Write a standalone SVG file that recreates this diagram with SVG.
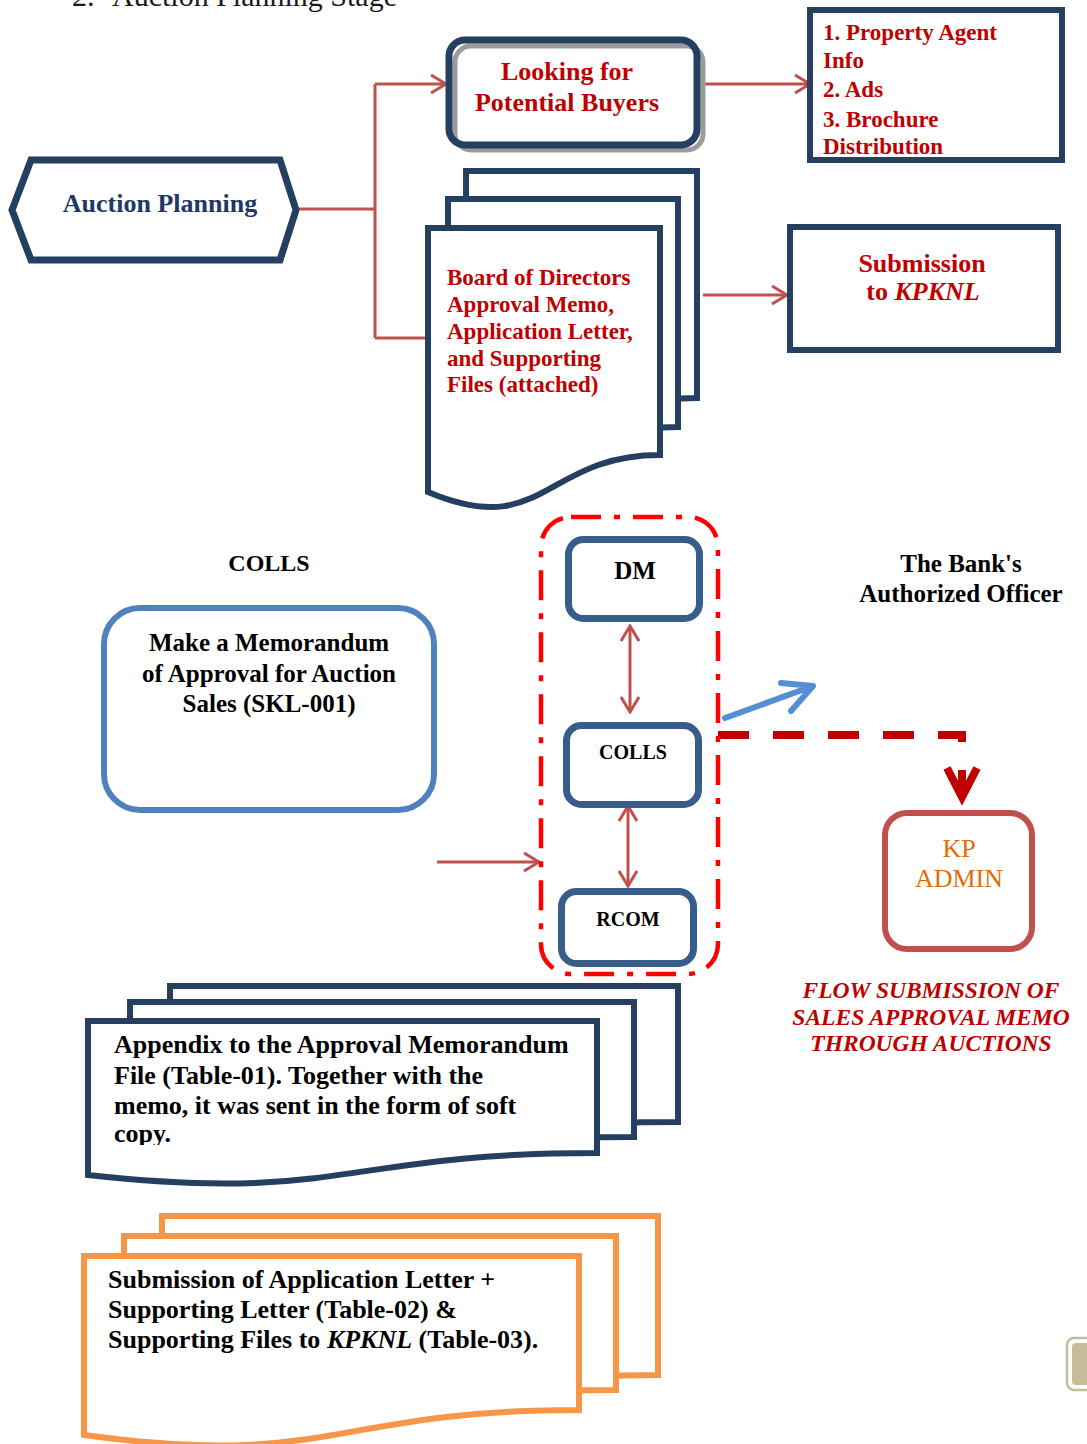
<svg xmlns="http://www.w3.org/2000/svg" width="1087" height="1444" viewBox="0 0 1087 1444">
  <style>
    text { font-family: "Liberation Serif", "Times New Roman", serif; }
    .navy { fill: #fff; stroke: #243F60; stroke-width: 6; }
    .doc { fill: #fff; stroke: #243F60; stroke-width: 6; stroke-linejoin: miter; }
    .odoc { fill: #fff; stroke: #F79646; stroke-width: 6; stroke-linejoin: miter; }
    .blue { fill: #fff; stroke: #385D8A; stroke-width: 7; }
    .red { fill: #C00000; font-weight: bold; }
    .blk { fill: #000; font-weight: bold; }
    .link { fill: none; stroke: #C0504D; stroke-width: 3; }
  </style>
  <defs>
    <marker id="arr" viewBox="0 0 20 20" refX="18" refY="10" markerWidth="20" markerHeight="20" markerUnits="userSpaceOnUse" orient="auto-start-reverse">
      <path d="M3,1 L18,10 L3,19" fill="none" stroke="#C0504D" stroke-width="3"/>
    </marker>
    <clipPath id="appClip"><rect x="90" y="1023" width="505" height="122"/></clipPath>
  </defs>

  <rect width="1087" height="1444" fill="#fff"/>

  <!-- heading -->
  <text x="72" y="6" font-size="30" fill="#1a1a1a">2.</text>
  <text x="112" y="6" font-size="30" fill="#1a1a1a">Auction Planning Stage</text>

  <!-- connectors -->
  <g id="connectors">
    <path class="link" d="M299,209 H375 M375,84 V338"/>
    <path class="link" d="M375,84 H446" marker-end="url(#arr)"/>
    <path class="link" d="M375,338 H446" marker-end="url(#arr)"/>
    <path class="link" d="M703,84 H810" marker-end="url(#arr)"/>
    <path class="link" d="M703,295 H787" marker-end="url(#arr)"/>
    <path class="link" d="M630,626 V712" marker-start="url(#arr)" marker-end="url(#arr)"/>
    <path class="link" d="M628,806 V886" marker-start="url(#arr)" marker-end="url(#arr)"/>
    <path class="link" d="M437,862 H539" marker-end="url(#arr)"/>
    <!-- blue pointer -->
    <path d="M725,718 L813,686 M781,683 L813,686 L791,711" fill="none" stroke="#558ED5" stroke-width="6" stroke-linecap="round" stroke-linejoin="round"/>
    <!-- dashed route to KP ADMIN -->
    <path d="M718,735 H962 V746" fill="none" stroke="#C00000" stroke-width="8" stroke-dasharray="31 24"/>
    <path d="M962,770 V797 M947,768 L962,797 L977,768" fill="none" stroke="#C00000" stroke-width="8" stroke-linejoin="miter"/>
  </g>

  <!-- Auction Planning -->
  <g id="auction-planning">
    <polygon points="12,210 31,160 280,160 296,210 280,260 31,260" fill="#fff" stroke="#243F60" stroke-width="7"/>
    <text x="160" y="212" font-size="26" font-weight="bold" fill="#1F3864" text-anchor="middle">Auction Planning</text>
  </g>

  <!-- Looking for Potential Buyers -->
  <g id="buyers">
    <rect x="449" y="40" width="248" height="105" rx="16" fill="#fff"/>
    <rect x="455" y="46" width="248" height="104" rx="16" fill="none" stroke="#9B9B9B" stroke-width="5"/>
    <rect x="449" y="40" width="248" height="105" rx="16" fill="none" stroke="#243F60" stroke-width="7"/>
    <text class="red" x="567" y="80" font-size="26" text-anchor="middle">Looking for</text>
    <text class="red" x="567" y="111" font-size="26" text-anchor="middle">Potential Buyers</text>
  </g>

  <!-- promotion list -->
  <g id="promotion">
    <rect class="navy" x="810" y="10" width="252" height="150"/>
    <text class="red" x="823" y="40" font-size="23">1. Property Agent</text>
    <text class="red" x="823" y="68" font-size="23">Info</text>
    <text class="red" x="823" y="97" font-size="23">2. Ads</text>
    <text class="red" x="823" y="127" font-size="23">3. Brochure</text>
    <text class="red" x="823" y="154" font-size="23">Distribution</text>
  </g>

  <!-- board documents -->
  <g id="board-docs">
    <path class="doc" d="M466,171 H697 V398 C581.5,398 581.5,484 466,435 Z"/>
    <path class="doc" d="M448,199 H678 V427 C563,427 563,513.5 448,464 Z"/>
    <path class="doc" d="M428,228 H660 V455 C544,455 544,541 428,492 Z"/>
    <text class="red" x="447" y="285" font-size="23">Board of Directors</text>
    <text class="red" x="447" y="312" font-size="23">Approval Memo,</text>
    <text class="red" x="447" y="339" font-size="23">Application Letter,</text>
    <text class="red" x="447" y="366" font-size="23">and Supporting</text>
    <text class="red" x="447" y="392" font-size="23">Files (attached)</text>
  </g>

  <!-- Submission to KPKNL -->
  <g id="submission">
    <rect class="navy" x="790" y="227" width="268" height="123"/>
    <text class="red" x="922" y="272" font-size="26" text-anchor="middle">Submission</text>
    <text class="red" x="923" y="300" font-size="26" text-anchor="middle">to <tspan font-style="italic">KPKNL</tspan></text>
  </g>

  <!-- labels -->
  <text class="blk" x="269" y="571" font-size="24" text-anchor="middle">COLLS</text>
  <text class="blk" x="961" y="572" font-size="25" text-anchor="middle">The Bank's</text>
  <text class="blk" x="961" y="602" font-size="25" text-anchor="middle">Authorized Officer</text>

  <!-- memorandum task -->
  <g id="memorandum">
    <rect x="104" y="608" width="330" height="202" rx="36" fill="#fff" stroke="#4F81BD" stroke-width="6"/>
    <text class="blk" x="269" y="651" font-size="25" text-anchor="middle">Make a Memorandum</text>
    <text class="blk" x="269" y="682" font-size="25" text-anchor="middle">of Approval for Auction</text>
    <text class="blk" x="269" y="712" font-size="25" text-anchor="middle">Sales (SKL-001)</text>
  </g>

  <!-- approval chain -->
  <g id="approval-group">
    <rect x="541" y="517" width="177" height="457" rx="30" fill="none" stroke="#FF0000" stroke-width="4.5" stroke-dasharray="30 13 6 13"/>
  </g>
  <g id="dm">
    <rect class="blue" x="568.5" y="539.5" width="131" height="79" rx="15"/>
    <text class="blk" x="635" y="579" font-size="25" text-anchor="middle">DM</text>
  </g>
  <g id="colls">
    <rect class="blue" x="566.5" y="725.5" width="132" height="79" rx="15"/>
    <text class="blk" x="633" y="759" font-size="20" text-anchor="middle">COLLS</text>
  </g>
  <g id="rcom">
    <rect class="blue" x="561.5" y="891.5" width="132" height="72" rx="15"/>
    <text class="blk" x="628" y="926" font-size="20" text-anchor="middle">RCOM</text>
  </g>

  <!-- KP ADMIN -->
  <g id="kp-admin">
    <rect x="885" y="813" width="147" height="136" rx="22" fill="#fff" stroke="#C0504D" stroke-width="6"/>
    <text x="959" y="857" font-size="26" fill="#E46C0A" text-anchor="middle">KP</text>
    <text x="959" y="887" font-size="26" fill="#E46C0A" text-anchor="middle">ADMIN</text>
  </g>

  <!-- caption -->
  <g id="caption" font-style="italic">
    <text class="red" x="931" y="998" font-size="23.5" text-anchor="middle">FLOW SUBMISSION OF</text>
    <text class="red" x="931" y="1025" font-size="23.5" text-anchor="middle">SALES APPROVAL MEMO</text>
    <text class="red" x="931" y="1051" font-size="23.5" text-anchor="middle">THROUGH AUCTIONS</text>
  </g>

  <!-- appendix documents -->
  <g id="appendix-docs">
    <path class="doc" d="M170,986 H678 V1122 C424,1122 424,1174 170,1144 Z"/>
    <path class="doc" d="M130,1002 H634 V1137 C382,1137 382,1188 130,1159 Z"/>
    <path class="doc" d="M88,1021 H597 V1153 C342.5,1153 342.5,1203 88,1175 Z"/>
    <g clip-path="url(#appClip)">
      <text class="blk" x="114" y="1053" font-size="26">Appendix to the Approval Memorandum</text>
      <text class="blk" x="114" y="1084" font-size="26">File (Table-01). Together with the</text>
      <text class="blk" x="114" y="1114" font-size="26">memo, it was sent in the form of soft</text>
      <text class="blk" x="114" y="1142" font-size="26">copy.</text>
    </g>
  </g>

  <!-- application documents -->
  <g id="application-docs">
    <path class="odoc" d="M162,1216 H658 V1375 C410,1375 410,1436 162,1401 Z"/>
    <path class="odoc" d="M124,1236 H616 V1390 C370,1390 370,1449 124,1415 Z"/>
    <path class="odoc" d="M84,1256 H579 V1410 C331.5,1410 331.5,1469 84,1435 Z"/>
    <text class="blk" x="108" y="1288" font-size="26">Submission of Application Letter +</text>
    <text class="blk" x="108" y="1318" font-size="26">Supporting Letter (Table-02) &amp;</text>
    <text class="blk" x="108" y="1348" font-size="26">Supporting Files to <tspan font-style="italic">KPKNL</tspan> (Table-03).</text>
  </g>

  <!-- page badge -->
  <g id="badge">
    <rect x="1067" y="1338" width="30" height="52" rx="7" fill="#fff" stroke="#C4BD97" stroke-width="2.5"/>
    <rect x="1072" y="1343" width="25" height="42" rx="4" fill="#C4BD97"/>
  </g>
</svg>
